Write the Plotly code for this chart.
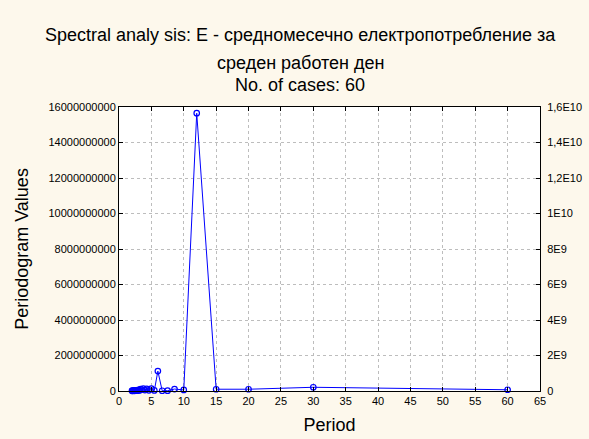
import plotly.graph_objects as go

# Data
n_cases = 60
periods = [60 / k for k in range(1, 31)]
values = [7e7, 2.1e8, 1.0e8, 1.0e8, 1.565e10, 6e7, 1.1e8, 2e7, 1.5e7, 1.12e9,
          3e7, 1.3e8, 4e7, 1.2e8, 5e7, 1.4e8, 8e7, 1.1e8, 3e7, 6e7,
          2e7, 4e7, 2e7, 3e7, 1e7, 2e7, 1.5e7, 1e7, 2e7, 1e7]

y_tickvals = [0, 2e9, 4e9, 6e9, 8e9, 1e10, 1.2e10, 1.4e10, 1.6e10]
y_left_text = ["0", "2000000000", "4000000000", "6000000000", "8000000000",
               "10000000000", "12000000000", "14000000000", "16000000000"]
y_right_text = ["0", "2E9", "4E9", "6E9", "8E9", "1E10", "1,2E10", "1,4E10", "1,6E10"]
x_tickvals = list(range(0, 70, 5))

FONT = "Liberation Sans, Arial, sans-serif"
BG = "#FDF8EC"
W, H = 589, 439
ML, MR, MT, MB = 119, 49, 107, 48
plot_w = W - ML - MR
plot_h = H - MT - MB

fig = go.Figure()
fig.add_trace(go.Scatter(
    x=periods, y=values, mode="lines+markers",
    line=dict(color="#0000FF", width=1),
    marker=dict(symbol="circle-open", size=5.5, color="#0000FF", line=dict(width=1.2)),
    showlegend=False, yaxis="y", cliponaxis=False))
fig.add_trace(go.Scatter(
    x=[None], y=[None], yaxis="y2", mode="markers", showlegend=False))

axis_common = dict(showline=True, linecolor="black", linewidth=1,
                   ticks="inside", ticklen=4, tickcolor="black", automargin=False,
                   tickfont=dict(family=FONT, size=11, color="#000000"))

def px_x(px):
    return (px - ML) / plot_w

def px_y(py):
    return 1 + (MT - py) / plot_h

fig.update_layout(
    width=W, height=H,
    paper_bgcolor=BG, plot_bgcolor="white",
    margin=dict(l=ML, r=MR, t=MT, b=MB),
    font=dict(family=FONT, color="black"),
    xaxis=dict(range=[0, 65], tickvals=x_tickvals, mirror="ticks",
               showgrid=True, gridcolor="#BDBDBD", griddash="dot", gridwidth=1,
               zeroline=False,
               title=dict(text="Period", font=dict(size=18), standoff=12),
               **axis_common),
    yaxis=dict(range=[0, 1.6e10], tickvals=y_tickvals, ticktext=y_left_text,
               showgrid=True, gridcolor="#BDBDBD", griddash="dot", gridwidth=1,
               zeroline=False,
               title=dict(text="Periodogram Values", font=dict(size=18), standoff=15),
               **axis_common),
    yaxis2=dict(range=[0, 1.6e10], tickvals=y_tickvals, ticktext=y_right_text,
                overlaying="y", side="right", showgrid=False, zeroline=False,
                ticklabelstandoff=4,
                **axis_common),
    annotations=[
        dict(text="Spectral analy sis: E - средномесечно електропотребление за",
             x=px_x(300), xref="paper", xanchor="center", y=px_y(35), yref="paper",
             yanchor="middle", showarrow=False, font=dict(size=18, family=FONT)),
        dict(text="среден работен ден",
             x=px_x(300), xref="paper", xanchor="center", y=px_y(63), yref="paper",
             yanchor="middle", showarrow=False, font=dict(size=18, family=FONT)),
        dict(text="No. of cases: %d" % n_cases,
             x=px_x(300), xref="paper", xanchor="center", y=px_y(85), yref="paper",
             yanchor="middle", showarrow=False, font=dict(size=18, family=FONT)),
    ],
)

fig.write_html("out.html")
